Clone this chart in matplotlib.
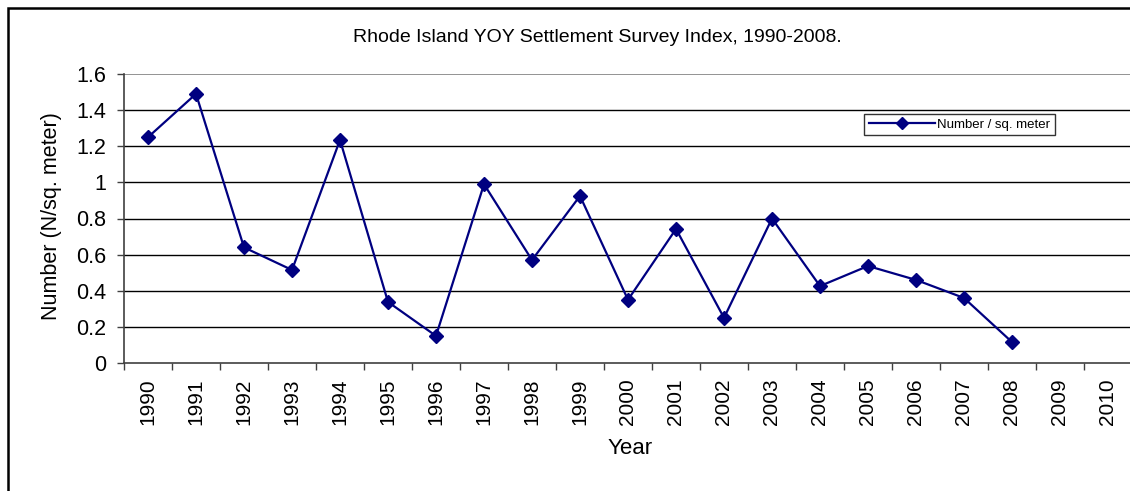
import matplotlib
matplotlib.use("Agg")
import matplotlib.pyplot as plt
from matplotlib.patches import Rectangle

plt.rcParams['font.family'] = ['Liberation Sans', 'DejaVu Sans']

years = [str(y) for y in range(1990, 2011)]
values = [1.25, 1.49, 0.64, 0.515, 1.235, 0.338, 0.15, 0.99, 0.57, 0.925,
          0.35, 0.742, 0.25, 0.80, 0.426, 0.537, 0.46, 0.36, 0.116]
yticks = [0, 0.2, 0.4, 0.6, 0.8, 1.0, 1.2, 1.4, 1.6]
ytick_labels = ['0', '0.2', '0.4', '0.6', '0.8', '1', '1.2', '1.4', '1.6']

W, H = 1130, 491
fig = plt.figure(figsize=(W / 100, H / 100), dpi=100)

# outer chart border
fig.patches.append(Rectangle((8 / W, -0.1), 1.2, (H - 8) / H + 0.1,
                             transform=fig.transFigure, fill=False,
                             edgecolor='black', linewidth=1.8))

left, right, top, bottom = 124, 1132, 74, 363
ax = fig.add_axes([left / W, 1 - bottom / H, (right - left) / W, (bottom - top) / H])

x = list(range(len(values)))
ax.plot(x, values, color='#000080', linewidth=1.6, marker='D', markersize=7.5,
        markerfacecolor='#000080', markeredgecolor='#000080', label='Number / sq. meter')

ax.set_xlim(-0.5, len(years) - 0.5)
ax.set_ylim(0, 1.6)
ax.set_yticks(yticks)
ax.set_yticklabels(ytick_labels, fontsize=15.5)
ax.set_xticks(list(range(len(years))))
ax.set_xticklabels(years, rotation=90, fontsize=15)
ax.set_xticks([i - 0.5 for i in range(len(years) + 1)], minor=True)
ax.tick_params(axis='x', which='major', length=0, pad=11)
ax.tick_params(axis='x', which='minor', length=5, width=1, color='#404040')
ax.tick_params(axis='y', length=5, width=1, color='#404040', pad=8)

for v in yticks[1:-1]:
    ax.axhline(v, color='black', linewidth=1, zorder=0)
ax.axhline(1.6, color='#808080', linewidth=1.2, zorder=0)

for s in ['top', 'right']:
    ax.spines[s].set_visible(False)
ax.spines['left'].set_color('#404040')
ax.spines['bottom'].set_color('#404040')
ax.spines['left'].set_linewidth(1.2)
ax.spines['bottom'].set_linewidth(1.2)

fig.text(597 / W, 1 - 38 / H, 'Rhode Island YOY Settlement Survey Index, 1990-2008.',
         ha='center', va='center', fontsize=14)
fig.text(52 / W, 1 - 216 / H, 'Number (N/sq. meter)', rotation=90,
         ha='center', va='center', fontsize=15.5)
fig.text(630 / W, 1 - 448 / H, 'Year', ha='center', va='center', fontsize=16)

leg = ax.legend(loc='upper left', bbox_to_anchor=((864 - left) / (right - left), 1 - (114 - top) / (bottom - top)),
                fontsize=9.5, frameon=True, fancybox=False, edgecolor='black',
                borderpad=0.35, handlelength=5.0, handletextpad=0.2, borderaxespad=0,
                markerscale=0.8)
leg.get_frame().set_linewidth(1)

fig.savefig('out.png', dpi=100)
